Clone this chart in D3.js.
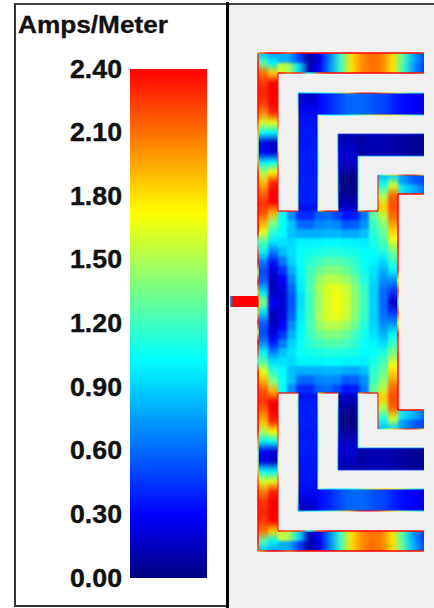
<!DOCTYPE html>
<html>
<head>
<meta charset="utf-8">
<title>Amps/Meter</title>
<script src="https://cdnjs.cloudflare.com/ajax/libs/d3/7.8.5/d3.min.js"></script>
<style>
    html, body { margin: 0; padding: 0; background: #fff; }
    svg { display: block; }
</style>
</head>
<body>
<div id="chart"></div>
<script>
// legend
var legendTitle = "Amps/Meter";
var tickValues = [0, 0.3, 0.6, 0.9, 1.2, 1.5, 1.8, 2.1, 2.4];
var colorStops = [0, 0.3, 1.03, 1.72, 2.4];
var colorNames = ["#000080", "#0000ff", "#00ffff", "#ffff00", "#ff0000"];

// current read along each strip (Amps/Meter, equal steps), upper half only, lower half is its mirror
var outerArmUpper = [0.8, 0.8, 0.5, 0.08, 0.25, 0.68, 1.2, 1.8, 2.02, 2.12, 2.05, 1.8, 1.25, 0.8, 0.5];
var outerArmLower = [1.6, 1.5, 0.95, 0.12, 0.3, 0.72, 1.2, 1.78, 2.02, 2.1, 2.05, 1.78, 1.2, 0.75, 0.45];
var outerLegLeft = [0.85, 1.25, 2.1, 2.25, 2.3, 2.25, 2.05, 1.6, 1.05, 0.25, 0.3, 1.0, 1.5, 1.9, 2.1, 2.25, 2.2, 1.95, 1.65, 1.25, 1.0, 0.65, 0.5, 0.6, 0.95, 1.4];
var outerLegRight = [0.75, 1.0, 1.85, 2.4, 2.4, 2.4, 2.3, 1.65, 1.0, 0.15, 0.2, 1.05, 1.75, 2.3, 2.4, 2.4, 1.95, 1.4, 1.15, 0.95, 0.65, 0.35, 0.2, 0.15, 0.15, 0.3];
var secondArm = [0.15, 0.22, 0.32, 0.38, 0.48, 0.58, 0.6, 0.58, 0.52, 0.48, 0.38, 0.32, 0.28, 0.22];
var secondLeg = [0.15, 0.22, 0.32, 0.35, 0.36, 0.36, 0.38, 0.36, 0.38, 0.38, 0.38, 0.32];
var thirdArm = [0.02, 0.05, 0.08, 0.12, 0.12, 0.1, 0.08, 0.05, 0.05];
var thirdLeg = [0.1, 0.15, 0.2, 0.12, 0.02, 0.02, 0.1, 0.2];
var innerArmUpper = [0.7, 0.9, 0.85, 0.7, 0.55, 0.5];
var innerArmLower = [1.3, 1.6, 1.15, 0.9, 0.8, 0.6];
var innerLegLeft = [0.85, 1.1, 1.5, 1.85, 1.5, 1.35, 1.25, 1.15, 0.95, 0.8, 0.7, 0.6, 0.6];
var innerLegRight = [0.9, 1.6, 2.15, 2.2, 2.1, 1.9, 1.7, 1.4, 1.2, 1.0, 0.7, 0.45, 0.15];
var feedLine = [0.8, 2.4, 2.4, 2.4, 2.4, 2.4, 2.4, 2.4, 2.4, 2.4];

// thin bright rims on the metal edges
var rimOuterTop = [2.0, 2.4, 2.4, 2.2, 2.4, 2.4, 2.4, 2.4, 2.4, 2.4, 2.4, 2.4, 2.4, 2.4, 2.4, 2.4, 2.3];
var rimOuterBottom = [2.4, 2.2, 2.3, 1.0, 2.2, 2.4, 2.4, 2.4, 2.4, 2.4, 2.4, 2.4, 2.4, 2.4, 2.3];
var rimLegOuter = [2.2, 2.4, 2.4, 2.4, 2.4, 2.4, 2.4, 2.2, 1.9, 1.4, 1.4, 2.0, 2.4, 2.4, 2.4, 2.4, 2.4, 2.4, 2.4, 1.2, 2.2, 2.4, 1.6, 2.4, 1.8, 2.4];
var rimLegInner = [2.4, 2.4, 2.4, 2.4, 2.4, 2.2, 1.5, 1.5, 2.2, 2.4, 2.4, 2.4, 2.4, 2.4];
var rimSecondTop = [0.8, 0.95, 1.1, 1.3, 1.9, 2.4, 2.4, 2.0, 1.5, 1.2, 1.0];
var rimSecondBottom = [1.3, 1.0, 1.0, 1.1, 1.4, 1.8, 1.8, 1.5, 1.2, 0.95];
var rimSecondLeft = [1.0, 1.4, 1.7, 1.7, 1.6, 1.5, 1.6, 1.4, 1.3, 1.8];
var rimSecondRight = [1.6, 1.5, 1.3, 1.3, 1.2, 1.3, 1.4, 1.5, 1.6];
var rimThirdTop = [0.5, 0.5, 0.45, 0.5, 0.5, 0.45];
var rimThirdBottom = [0.8, 0.7, 0.7, 0.7, 0.7];
var rimThirdLeft = [0.6, 0.7, 0.9, 1.0, 1.6];
var rimThirdRight = [1.0, 1.0, 1.0, 1.1, 1.2];
var rimInnerTop = [1.0, 1.5, 1.9, 2.3, 2.2, 1.6];
var rimInnerBottom = [2.4, 2.4, 2.4, 2.3];
var rimInnerLeft = [2.4, 2.4, 2.4, 2.4];
var rimPatchRight = [2.4, 2.4, 2.4, 2.4, 2.4, 2.4, 2.3, 2.4, 1.7, 2.2, 1.3];
var rimPatchTopA = [2.4, 2.4, 2.3];
var rimPatchTopB = [1.9, 2.4, 2.3];
var rimPatchTopC = [2.0, 2.4, 2.4];

// square patch, rows run from the patch edge towards the centre line
var patchAmps = [
    [1.05, 0.7, 0.42, 0.42, 0.58, 0.6, 0.5, 0.35, 0.38, 0.65, 1.3],
    [1.05, 0.85, 0.6, 0.6, 0.68, 0.7, 0.68, 0.55, 0.58, 0.72, 1.2],
    [1.02, 0.85, 0.8, 0.8, 0.8, 0.82, 0.82, 0.78, 0.78, 0.85, 1.15],
    [0.95, 0.92, 1.0, 1.0, 1.0, 1.02, 1.02, 1.0, 1.0, 0.98, 1.1],
    [0.85, 0.95, 1.05, 1.08, 1.1, 1.12, 1.12, 1.1, 1.08, 1.02, 1.05],
    [0.65, 0.9, 1.05, 1.15, 1.2, 1.25, 1.25, 1.22, 1.15, 1.05, 1.0],
    [0.45, 0.8, 1.02, 1.2, 1.32, 1.38, 1.38, 1.32, 1.2, 1.08, 0.95],
    [0.3, 0.7, 1.0, 1.22, 1.42, 1.52, 1.52, 1.45, 1.3, 1.12, 0.92],
    [0.22, 0.6, 0.98, 1.22, 1.48, 1.62, 1.65, 1.58, 1.38, 1.18, 0.9],
    [0.2, 0.55, 0.95, 1.2, 1.45, 1.62, 1.68, 1.6, 1.4, 1.2, 0.9]
];

var svgWidth = 434;
var svgHeight = 608;

var svg = d3.select("#chart").append("svg")
    .attr("width", svgWidth)
    .attr("height", svgHeight);

var defs = svg.append("defs");

var colorScale = d3.scaleLinear().domain(colorStops).range(colorNames);

// panels
svg.append("rect").attr("x", 228).attr("y", 5).attr("width", 206).attr("height", 603).attr("fill", "#f0f0f0");
svg.append("rect").attr("x", 14).attr("y", 3).attr("width", 420).attr("height", 2).attr("fill", "#444");
svg.append("rect").attr("x", 14).attr("y", 3).attr("width", 2).attr("height", 604).attr("fill", "#333");
svg.append("rect").attr("x", 14).attr("y", 605).attr("width", 213).attr("height", 2).attr("fill", "#333");
svg.append("rect").attr("x", 226).attr("y", 2).attr("width", 3).attr("height", 606).attr("fill", "#000");

// legend bar
var barScale = d3.scaleLinear().domain([0, 2.4]).range([578, 69]);

var barGrad = defs.append("linearGradient").attr("id", "barGrad")
    .attr("gradientUnits", "userSpaceOnUse")
    .attr("x1", 0).attr("x2", 0)
    .attr("y1", barScale(0)).attr("y2", barScale(2.4));

barGrad.selectAll("stop")
    .data(colorStops)
    .enter()
    .append("stop")
    .attr("offset", d => d / 2.4)
    .attr("stop-color", d => colorScale(d));

svg.append("rect")
    .attr("x", 130).attr("y", barScale(2.4))
    .attr("width", 77).attr("height", barScale(0) - barScale(2.4))
    .attr("fill", "url(#barGrad)");

var barAxis = d3.axisLeft(barScale)
    .tickValues(tickValues)
    .tickFormat(d3.format(".2f"))
    .tickSize(0)
    .tickPadding(8);

var axisGroup = svg.append("g")
    .attr("transform", "translate(130, 0)")
    .call(barAxis);

axisGroup.select(".domain").remove();
axisGroup.selectAll("text")
    .attr("font-family", "Liberation Sans")
    .attr("font-weight", "bold")
    .attr("font-size", 25)
    .attr("fill", "#111")
    .attr("stroke", "#111")
    .attr("stroke-width", 0.4)
    .attr("textLength", 52)
    .attr("lengthAdjust", "spacingAndGlyphs");

svg.append("text")
    .attr("x", 18)
    .attr("y", 33)
    .attr("font-family", "Liberation Sans")
    .attr("font-weight", "bold")
    .attr("font-size", 23)
    .attr("fill", "#111")
    .attr("stroke", "#111")
    .attr("stroke-width", 0.3)
    .attr("textLength", 150)
    .attr("lengthAdjust", "spacingAndGlyphs")
    .text(legendTitle);

// antenna, one unit is one strip width, v is measured from the centre line
var xScale = d3.scaleLinear().domain([0, 8.3]).range([258, 424]);
var vScale = d3.scaleLinear().domain([-12.45, 12.45]).range([53, 551]);

var blur = defs.append("filter").attr("id", "soft")
    .attr("x", "-5%").attr("y", "-5%").attr("width", "110%").attr("height", "110%")
    .attr("color-interpolation-filters", "sRGB");
blur.append("feGaussianBlur").attr("stdDeviation", 1.4);
// blur fades the strip sides into nothing, push alpha back up so colours stay full up to the edge
blur.append("feComponentTransfer").append("feFuncA").attr("type", "linear").attr("slope", 5);

var rimBlur = defs.append("filter").attr("id", "rimSoft")
    .attr("x", "-5%").attr("y", "-5%").attr("width", "110%").attr("height", "110%")
    .attr("color-interpolation-filters", "sRGB");
rimBlur.append("feGaussianBlur").attr("stdDeviation", 0.5);

// strips: lanes are side by side across the strip
var strips = [
    { x0: 0, x1: 1, v0: -12.45, v1: 0, along: "v", lanes: [outerLegLeft, outerLegRight] },
    { x0: 1, x1: 8.3, v0: -12.45, v1: -11.45, along: "h", lanes: [outerArmUpper, outerArmLower] },
    { x0: 2, x1: 8.3, v0: -10.45, v1: -9.35, along: "h", lanes: [secondArm] },
    { x0: 2, x1: 3, v0: -10.45, v1: -4.55, along: "v", lanes: [secondLeg] },
    { x0: 4, x1: 8.3, v0: -8.4, v1: -7.3, along: "h", lanes: [thirdArm] },
    { x0: 4, x1: 5, v0: -8.4, v1: -4.55, along: "v", lanes: [thirdLeg] },
    { x0: 6, x1: 8.3, v0: -6.35, v1: -5.4, along: "h", lanes: [innerArmUpper, innerArmLower] },
    { x0: 6, x1: 7, v0: -6.35, v1: 0, along: "v", lanes: [innerLegLeft, innerLegRight] }
];

// rims: a line along one metal edge
var rims = [
    { x0: 0, x1: 8.3, v0: -12.45, v1: -12.45, w: 1.5, values: rimOuterTop },
    { x0: 1, x1: 8.3, v0: -11.45, v1: -11.45, w: 1.5, values: rimOuterBottom },
    { x0: 0, x1: 0, v0: -12.45, v1: 0, w: 1.5, values: rimLegOuter },
    { x0: 1, x1: 1, v0: -11.45, v1: -4.55, w: 1, values: rimLegInner },
    { x0: 2, x1: 8.3, v0: -10.45, v1: -10.45, w: 1, values: rimSecondTop },
    { x0: 3, x1: 8.3, v0: -9.35, v1: -9.35, w: 1, values: rimSecondBottom },
    { x0: 2, x1: 2, v0: -10.45, v1: -4.55, w: 1, values: rimSecondLeft },
    { x0: 3, x1: 3, v0: -9.35, v1: -4.55, w: 1, values: rimSecondRight },
    { x0: 4, x1: 8.3, v0: -8.4, v1: -8.4, w: 0.8, values: rimThirdTop },
    { x0: 5, x1: 8.3, v0: -7.3, v1: -7.3, w: 0.8, values: rimThirdBottom },
    { x0: 4, x1: 4, v0: -8.4, v1: -4.55, w: 0.8, values: rimThirdLeft },
    { x0: 5, x1: 5, v0: -7.3, v1: -4.55, w: 0.8, values: rimThirdRight },
    { x0: 6, x1: 8.3, v0: -6.35, v1: -6.35, w: 1, values: rimInnerTop },
    { x0: 7, x1: 8.3, v0: -5.4, v1: -5.4, w: 1.5, values: rimInnerBottom },
    { x0: 6, x1: 6, v0: -6.35, v1: -4.55, w: 1, values: rimInnerLeft },
    { x0: 7, x1: 7, v0: -5.4, v1: 0, w: 1.5, values: rimPatchRight },
    { x0: 1, x1: 2, v0: -4.55, v1: -4.55, w: 1.2, values: rimPatchTopA },
    { x0: 3, x1: 4, v0: -4.55, v1: -4.55, w: 1.2, values: rimPatchTopB },
    { x0: 5, x1: 6, v0: -4.55, v1: -4.55, w: 1.2, values: rimPatchTopC }
];

var clip = defs.append("clipPath").attr("id", "metal");
var body = svg.append("g").attr("clip-path", "url(#metal)").append("g").attr("filter", "url(#soft)");
var edges = svg.append("g").attr("filter", "url(#rimSoft)");

var gradCount = 0;

// gradient from one end of a strip to the other, running from v0 to v1 so mirroring just works
function alongGradient(values, ax, ay, bx, by) {
    var id = "g" + (gradCount++);
    var grad = defs.append("linearGradient").attr("id", id)
        .attr("gradientUnits", "userSpaceOnUse")
        .attr("x1", ax).attr("y1", ay)
        .attr("x2", bx).attr("y2", by);
    grad.selectAll("stop")
        .data(values)
        .enter()
        .append("stop")
        .attr("offset", (d, i) => i / (values.length - 1))
        .attr("stop-color", d => colorScale(d));
    return "url(#" + id + ")";
}

[1, -1].forEach(function (side) {

    strips.forEach(function (s) {
        var xa = xScale(s.x0), xb = xScale(s.x1);
        var ya = vScale(side * s.v0), yb = vScale(side * s.v1);
        var top = Math.min(ya, yb), bottom = Math.max(ya, yb);

        clip.append("rect").attr("x", xa).attr("y", top).attr("width", xb - xa).attr("height", bottom - top);

        // lane order is always listed from the outside of the antenna
        s.lanes.forEach(function (values, i) {
            var n = s.lanes.length;
            if (s.along == "v") {
                body.append("rect")
                    .attr("x", xa + (xb - xa) * i / n)
                    .attr("y", top)
                    .attr("width", (xb - xa) / n)
                    .attr("height", bottom - top)
                    .attr("fill", alongGradient(values, 0, ya, 0, yb));
            } else {
                var h = (yb - ya) / n;
                body.append("rect")
                    .attr("x", xa)
                    .attr("y", Math.min(ya + h * i, ya + h * (i + 1)))
                    .attr("width", xb - xa)
                    .attr("height", Math.abs(h))
                    .attr("fill", alongGradient(values, xa, 0, xb, 0));
            }
        });
    });

    // patch cells, a reversed band range already mirrors the rows on the lower half
    var colBand = d3.scaleBand().domain(d3.range(patchAmps[0].length)).range([xScale(1), xScale(6)]);
    var rowBand = d3.scaleBand().domain(d3.range(patchAmps.length)).range([vScale(side * -4.55), vScale(0)]);

    clip.append("rect")
        .attr("x", xScale(1))
        .attr("y", Math.min(vScale(side * -4.55), vScale(0)))
        .attr("width", xScale(6) - xScale(1))
        .attr("height", Math.abs(vScale(0) - vScale(side * -4.55)));

    patchAmps.forEach(function (row, r) {
        body.selectAll(null)
            .data(row)
            .enter()
            .append("rect")
            .attr("x", (d, c) => colBand(c))
            .attr("y", rowBand(r))
            .attr("width", colBand.bandwidth() + 0.5)
            .attr("height", rowBand.bandwidth() + 0.5)
            .attr("fill", d => colorScale(d));
    });

    rims.forEach(function (e) {
        var xa = xScale(e.x0), xb = xScale(e.x1);
        var ya = vScale(side * e.v0), yb = vScale(side * e.v1);
        var flat = e.v0 == e.v1;
        edges.append("rect")
            .attr("x", flat ? xa : xa - e.w / 2)
            .attr("y", flat ? ya - e.w / 2 : Math.min(ya, yb))
            .attr("width", flat ? xb - xa : e.w)
            .attr("height", flat ? e.w : Math.abs(yb - ya))
            .attr("fill", alongGradient(e.values, xa, ya, xb, yb));
    });
});

// feed line sits on the centre line, only once
var feedX0 = xScale(-1.4), feedX1 = xScale(0);
svg.append("rect")
    .attr("x", feedX0)
    .attr("y", vScale(-0.3))
    .attr("width", feedX1 - feedX0)
    .attr("height", vScale(0.25) - vScale(-0.3))
    .attr("fill", alongGradient(feedLine, feedX0, 0, feedX1, 0));
</script>
</body>
</html>
